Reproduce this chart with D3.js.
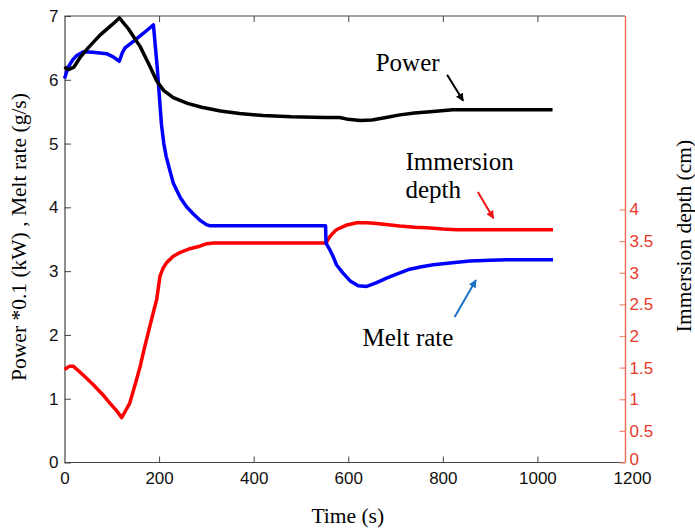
<!DOCTYPE html>
<html>
<head>
<meta charset="utf-8">
<script src="https://cdn.jsdelivr.net/npm/d3@7"></script>
<style>
  body { margin: 0; background: #fff; }
  svg { display: block; }
</style>
</head>
<body>
<div id="chart"></div>
<script>
// time axis (s)
const xTicks = [0, 200, 400, 600, 800, 1000, 1200];
const leftTicks = [0, 1, 2, 3, 4, 5, 6, 7];
const rightTicks = [0, 0.5, 1, 1.5, 2, 2.5, 3, 3.5, 4];

// Power *0.1 (kW)
const powerT = [0, 8, 20, 33, 50, 75, 100, 116, 135, 160, 180, 195, 210, 230, 260, 290, 330, 370, 420, 480, 550, 582, 600, 625, 650, 680, 709, 740, 773, 821, 900, 1032];
const powerV = [6.20, 6.16, 6.20, 6.35, 6.50, 6.70, 6.86, 6.97, 6.80, 6.52, 6.22, 5.98, 5.83, 5.72, 5.63, 5.57, 5.51, 5.47, 5.44, 5.42, 5.41, 5.41, 5.38, 5.36, 5.37, 5.41, 5.45, 5.48, 5.50, 5.53, 5.53, 5.53];

// Melt rate (g/s)
const meltT = [0, 8, 18, 26, 40, 60, 89, 103, 116, 122, 128, 145, 167, 188, 196, 201, 205, 210, 215, 222, 230, 245, 258, 272, 286, 300, 308, 552, 553, 560, 568, 575, 589, 605, 621, 639, 660, 681, 705, 730, 755, 780, 820, 857, 900, 935, 1033];
const meltV = [6.02, 6.20, 6.32, 6.38, 6.44, 6.43, 6.41, 6.36, 6.29, 6.42, 6.50, 6.60, 6.73, 6.86, 6.20, 5.70, 5.30, 5.00, 4.80, 4.60, 4.38, 4.15, 4.01, 3.90, 3.80, 3.73, 3.71, 3.71, 3.44, 3.35, 3.23, 3.10, 2.97, 2.84, 2.77, 2.76, 2.82, 2.89, 2.96, 3.03, 3.07, 3.10, 3.13, 3.16, 3.17, 3.18, 3.18];

// Immersion depth (cm), right axis
const depthT = [0, 10, 19, 40, 61, 80, 96, 110, 121, 130, 138, 150, 160, 168, 177, 186, 195, 202, 209, 216, 230, 244, 265, 286, 301, 315, 553, 560, 568, 575, 595, 618, 640, 660, 685, 709, 740, 766, 800, 829, 1033];
const depthV = [1.47, 1.52, 1.52, 1.38, 1.23, 1.08, 0.94, 0.82, 0.71, 0.83, 0.94, 1.25, 1.52, 1.78, 2.05, 2.32, 2.58, 2.95, 3.08, 3.16, 3.26, 3.32, 3.38, 3.42, 3.46, 3.47, 3.47, 3.56, 3.63, 3.68, 3.75, 3.79, 3.79, 3.78, 3.76, 3.74, 3.72, 3.71, 3.69, 3.68, 3.68];

const W = 695, H = 528;
const plot = { left: 64.5, right: 625, top: 16, bottom: 462.5 };

const svg = d3.select("#chart").append("svg")
    .attr("width", W)
    .attr("height", H);

const x = d3.scaleLinear().domain([0, 1200]).range([64.5, 632]);
const y = d3.scaleLinear().domain([0, 7]).range([plot.bottom, plot.top]);
const yR = d3.scaleLinear().domain([0, 4]).range([plot.bottom, 209.5]);

const tickFont = "'Liberation Sans', Arial, sans-serif";
const serif = "'Liberation Serif', 'Times New Roman', serif";
const plain = d => String(d);

// box top line
svg.append("line")
    .attr("x1", plot.left).attr("x2", plot.right)
    .attr("y1", plot.top).attr("y2", plot.top)
    .attr("stroke", "#444").attr("stroke-width", 1.2);

// bottom axis
const gx = svg.append("g")
    .attr("transform", `translate(0,${plot.bottom})`)
    .call(d3.axisBottom(x).tickValues(xTicks).tickFormat(plain).tickSizeInner(-6).tickSizeOuter(0).tickPadding(9.5));
gx.select(".domain").remove();
gx.selectAll(".tick line").attr("stroke", "#444")
    .filter(d => d === 0 || d === 1200).remove();
gx.selectAll("text").style("font-family", tickFont).style("font-size", "17px").attr("fill", "#111");
svg.append("line")
    .attr("x1", plot.left).attr("x2", plot.right)
    .attr("y1", plot.bottom).attr("y2", plot.bottom)
    .attr("stroke", "#444").attr("stroke-width", 1.2);

// top ticks
svg.append("g")
    .attr("transform", `translate(0,${plot.top})`)
    .call(d3.axisTop(x).tickValues(xTicks.filter(d => d > 0 && d < 1200)).tickSizeInner(-6).tickSizeOuter(0).tickFormat(""))
    .call(g => g.select(".domain").remove())
    .selectAll(".tick line").attr("stroke", "#444");

// left axis
const gy = svg.append("g")
    .attr("transform", `translate(${plot.left},0)`)
    .call(d3.axisLeft(y).tickValues(leftTicks).tickFormat(plain).tickSizeInner(-6.5).tickSizeOuter(0).tickPadding(6));
gy.select(".domain").attr("stroke", "#444").attr("stroke-width", 1.2);
gy.selectAll(".tick line").attr("stroke", "#444");
gy.selectAll("text").style("font-family", tickFont).style("font-size", "17px").attr("fill", "#111");

// right axis (immersion depth)
const gr = svg.append("g")
    .attr("transform", `translate(${plot.right + 0.5},0)`)
    .call(d3.axisRight(yR).tickValues(rightTicks).tickFormat(plain).tickSizeInner(-6).tickSizeOuter(0).tickPadding(4));
gr.select(".domain").remove();
gr.selectAll(".tick line").attr("stroke", "#f08a7a").attr("stroke-width", 1.2);
gr.selectAll("text").style("font-family", tickFont).style("font-size", "17px").attr("fill", "#e8392b");
// the lowest label sits a touch higher so it clears "1200"
gr.selectAll(".tick").filter(d => d === 0).select("text").attr("dy", "0.1em");
svg.append("line")
    .attr("x1", plot.right + 0.5).attr("x2", plot.right + 0.5)
    .attr("y1", plot.top).attr("y2", plot.bottom)
    .attr("stroke", "#ef6f5e").attr("stroke-width", 1.5);

// series
const lineL = d3.line().x(d => x(d[0])).y(d => y(d[1]));
const lineR = d3.line().x(d => x(d[0])).y(d => yR(d[1]));

const series = [
    { t: depthT, v: depthV, color: "#ff0000", gen: lineR },
    { t: meltT, v: meltV, color: "#0000ff", gen: lineL },
    { t: powerT, v: powerV, color: "#000000", gen: lineL }
];

series.forEach(s => {
    svg.append("path")
        .datum(s.t.map((t, i) => [t, s.v[i]]))
        .attr("fill", "none")
        .attr("stroke", s.color)
        .attr("stroke-width", 3.5)
        .attr("stroke-linejoin", "round")
        .attr("d", s.gen);
});

// axis titles
svg.append("text")
    .attr("x", (plot.left + 632) / 2 - 0.5)
    .attr("y", 522.5)
    .attr("text-anchor", "middle")
    .style("font-family", serif).style("font-size", "21.5px")
    .text("Time (s)");

svg.append("text")
    .attr("transform", "translate(26,237) rotate(-90)")
    .attr("text-anchor", "middle")
    .style("font-family", serif).style("font-size", "21.5px")
    .text("Power *0.1 (kW) , Melt rate (g/s)");

svg.append("text")
    .attr("transform", "translate(691,236) rotate(-90)")
    .attr("text-anchor", "middle")
    .style("font-family", serif).style("font-size", "21.5px")
    .text("Immersion depth (cm)");

// annotations (data coords on left axis)
const labels = [
    { text: "Power", t: 658, v: 6.14 },
    { text: "Immersion", t: 721, v: 4.59 },
    { text: "depth", t: 721, v: 4.15 },
    { text: "Melt rate", t: 630, v: 1.83 }
];
svg.selectAll(".note").data(labels).enter().append("text")
    .attr("class", "note")
    .attr("x", d => x(d.t))
    .attr("y", d => y(d.v))
    .style("font-family", serif).style("font-size", "25px")
    .attr("fill", "#000")
    .text(d => d.text);

const arrows = [
    { t0: 809, v0: 6.08, t1: 843, v1: 5.67, color: "#000000", id: "ahBlack" },
    { t0: 874, v0: 4.24, t1: 907, v1: 3.83, color: "#ee1111", id: "ahRed" },
    { t0: 825, v0: 2.28, t1: 870, v1: 2.86, color: "#1a72c6", id: "ahBlue" }
];
const defs = svg.append("defs");
arrows.forEach(a => {
    defs.append("marker")
        .attr("id", a.id)
        .attr("viewBox", "0 0 10 10")
        .attr("refX", 9).attr("refY", 5)
        .attr("markerWidth", 4.2).attr("markerHeight", 4)
        .attr("markerUnits", "strokeWidth")
        .attr("orient", "auto")
      .append("path")
        .attr("d", "M0,0 L10,5 L0,10 z")
        .attr("fill", a.color);
    svg.append("line")
        .attr("x1", x(a.t0)).attr("y1", y(a.v0))
        .attr("x2", x(a.t1)).attr("y2", y(a.v1))
        .attr("stroke", a.color)
        .attr("stroke-width", 2)
        .attr("marker-end", `url(#${a.id})`);
});
</script>
</body>
</html>
